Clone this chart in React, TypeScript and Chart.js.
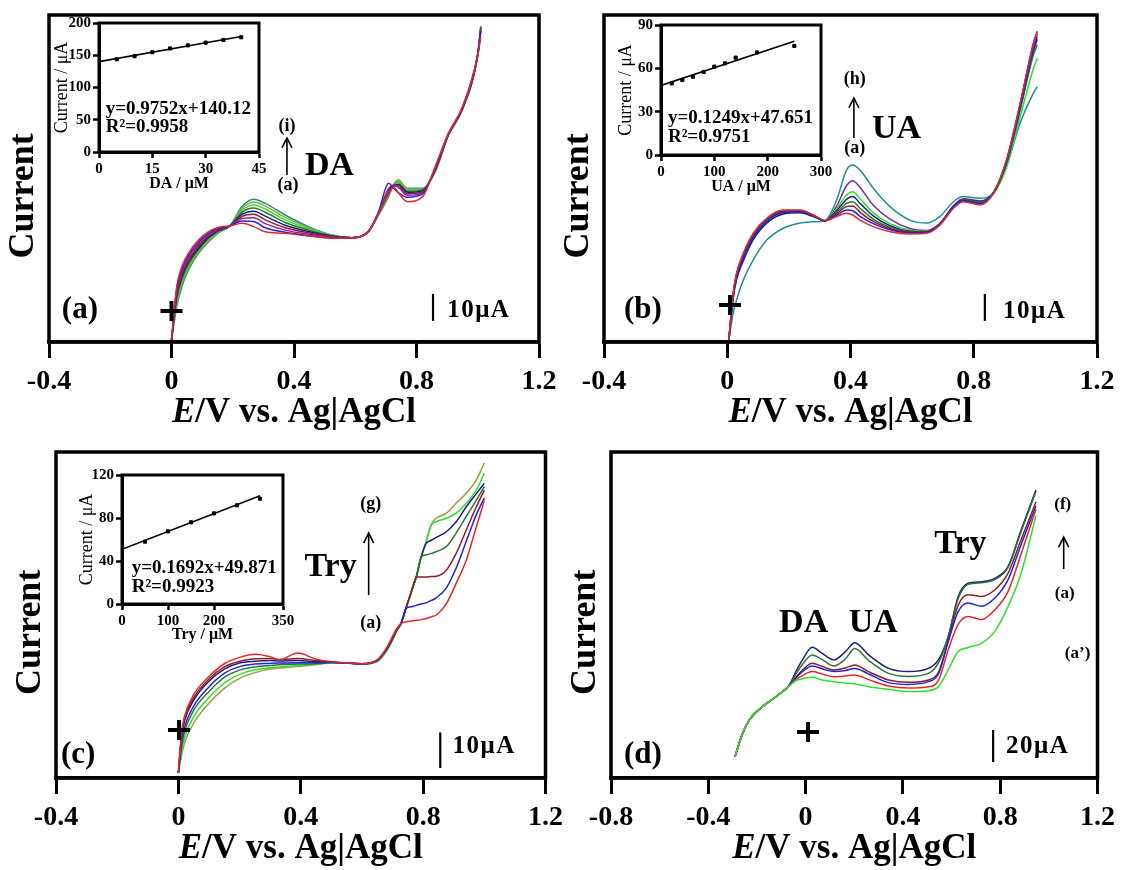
import React, { useEffect, useRef } from 'react';
import { Chart, registerables } from 'chart.js';

Chart.register(...registerables);

const SERIF = '"Liberation Serif", "Times New Roman", Times, serif';
Chart.defaults.font.family = SERIF;

const RED = '#e5262b';
const BLUE = '#2323d6';
const MAGENTA = '#9a239a';
const WINE = '#87202e';
const NAVY = '#1d1f78';
const DKGREEN = '#2f7433';
const GREEN = '#2ee02e';
const OLIVE = '#a09a45';
const TEAL = '#1f8f8f';
const PURPLE = '#7d2a9a';

// ---------------- Axis ticks ----------------
const mainTicks = [-0.4, 0, 0.4, 0.8, 1.2];
const mixTicks = [-0.8, -0.4, 0, 0.4, 0.8, 1.2];

// ---------------- Panel (a): DA, potential (V) and currents (uA, arbitrary offset) ----------------
const potentialA = [0, 0.017, 0.034, 0.055, 0.088, 0.121, 0.153, 0.19, 0.23, 0.268, 0.306, 0.371, 0.447, 0.523, 0.589, 0.643, 0.676, 0.709, 0.725, 0.741, 0.77, 0.82, 0.861, 0.904, 0.95, 1.0, 1.01];
const daA = [0.7, 20.5, 27.9, 32.8, 37.7, 40.8, 42.4, 42.9, 43.9, 42.7, 40.8, 40.2, 39.2, 38.4, 38.6, 40.8, 47.6, 55.0, 57.2, 55.2, 51.9, 53.8, 64.9, 77.2, 87.0, 106.0, 113.0];
const daB = [0.7, 19.6, 27.0, 31.9, 36.9, 40.3, 42.0, 42.9, 44.8, 44.6, 42.3, 40.6, 39.4, 38.5, 38.6, 40.8, 48.2, 58.7, 57.0, 55.2, 53.6, 54.8, 64.5, 77.0, 86.8, 106.5, 115.0];
const daC = [0.7, 18.8, 26.1, 31.0, 36.2, 39.8, 41.7, 42.9, 45.7, 46.0, 43.8, 41.4, 39.9, 38.8, 38.6, 40.9, 47.9, 56.8, 58.0, 57.2, 54.3, 55.3, 64.2, 76.9, 86.6, 106.2, 116.0];
const daD = [0.7, 17.9, 25.2, 30.2, 35.4, 39.3, 41.4, 42.9, 46.5, 47.3, 45.2, 42.3, 40.4, 39.0, 38.6, 40.9, 47.8, 56.2, 57.8, 57.6, 54.9, 55.6, 63.9, 76.8, 86.5, 106.0, 115.0];
const daE = [0.7, 17.0, 24.3, 29.5, 34.7, 38.8, 41.2, 42.9, 47.2, 48.4, 46.6, 43.2, 40.9, 39.2, 38.6, 40.9, 47.6, 55.5, 57.9, 58.2, 55.4, 56.0, 63.7, 76.7, 86.4, 106.3, 116.0];
const daF = [0.7, 16.1, 23.4, 28.7, 34.1, 38.4, 41.0, 42.9, 48.0, 49.6, 48.0, 44.2, 41.4, 39.3, 38.6, 40.9, 47.4, 55.0, 57.9, 58.5, 55.8, 56.3, 63.5, 76.6, 86.3, 106.4, 116.5];
const daG = [0.7, 15.2, 22.5, 28.0, 33.6, 37.9, 40.8, 42.9, 48.7, 50.7, 49.2, 45.2, 41.9, 39.4, 38.6, 41.0, 47.3, 54.6, 58.0, 59.0, 56.2, 56.5, 63.3, 76.6, 86.2, 106.5, 117.0];
const daH = [0.7, 14.2, 21.5, 27.3, 33.2, 37.5, 40.6, 42.9, 49.4, 51.8, 50.3, 46.1, 42.3, 39.5, 38.6, 41.0, 47.1, 54.2, 58.3, 60.0, 56.6, 56.7, 63.1, 76.5, 86.1, 106.4, 116.5];
const daI = [0.7, 13.1, 20.5, 26.6, 32.8, 37.1, 40.4, 42.9, 50.1, 52.8, 51.3, 47.0, 42.7, 39.6, 38.6, 41.0, 47.0, 53.8, 58.1, 59.3, 56.9, 56.9, 63.0, 76.5, 86.0, 106.5, 117.0];

// ---------------- Panel (b): UA ----------------
const potentialB = [0.005, 0.019, 0.03, 0.052, 0.084, 0.128, 0.182, 0.236, 0.279, 0.317, 0.355, 0.387, 0.407, 0.431, 0.474, 0.528, 0.593, 0.647, 0.69, 0.734, 0.766, 0.82, 0.863, 0.906, 0.95, 0.993, 1.006];
const uaA = [0.5, 18.0, 25.4, 32.8, 40.2, 45.8, 48.8, 48.8, 47.0, 44.9, 46.4, 47.6, 47.0, 45.1, 42.7, 40.8, 40.0, 40.2, 43.3, 49.5, 51.9, 50.7, 55.0, 67.3, 88.0, 110.0, 114.8];
const uaB = [0.5, 16.5, 23.8, 30.8, 38.6, 44.6, 47.9, 48.2, 46.6, 44.8, 46.9, 48.8, 48.6, 46.5, 43.8, 41.5, 40.4, 40.5, 43.8, 50.2, 52.3, 51.3, 55.1, 66.5, 86.5, 108.0, 113.0];
const uaC = [0.5, 17.6, 25.0, 32.4, 39.8, 45.5, 48.6, 48.7, 47.0, 44.9, 47.5, 50.1, 50.3, 48.0, 44.6, 41.9, 40.6, 40.5, 43.5, 49.8, 52.2, 51.2, 55.0, 67.0, 87.5, 109.5, 114.0];
const uaD = [0.5, 17.2, 24.6, 31.6, 39.2, 45.0, 48.2, 48.4, 46.8, 44.9, 48.0, 51.3, 51.9, 49.5, 45.5, 42.4, 40.8, 40.6, 43.4, 49.6, 52.6, 51.8, 55.0, 66.0, 85.5, 106.0, 110.0];
const uaE = [0.5, 15.8, 23.0, 30.0, 37.8, 44.0, 47.4, 47.8, 46.4, 44.9, 48.6, 52.8, 53.8, 51.3, 46.7, 43.0, 41.0, 40.8, 43.6, 50.0, 52.8, 52.0, 55.0, 66.2, 86.0, 107.5, 112.0];
const uaF = [0.5, 17.0, 24.3, 31.2, 38.9, 44.8, 48.0, 48.3, 46.8, 44.9, 49.2, 54.4, 55.6, 53.0, 47.8, 43.8, 41.4, 41.0, 43.2, 49.8, 52.4, 51.5, 54.6, 64.5, 83.0, 101.0, 105.0];
const uaG = [0.5, 17.4, 24.8, 31.8, 39.5, 45.2, 48.4, 48.6, 47.0, 44.9, 50.3, 57.8, 59.7, 57.2, 50.6, 45.5, 42.0, 41.3, 43.8, 50.4, 53.0, 52.2, 55.2, 67.0, 87.8, 110.5, 115.0];
const uaH = [0.5, 10.6, 15.5, 22.9, 30.3, 37.7, 42.1, 44.0, 44.5, 44.9, 52.5, 63.6, 65.5, 63.6, 56.9, 50.1, 45.1, 44.0, 46.4, 51.9, 53.8, 53.2, 55.0, 64.9, 80.9, 92.0, 94.4];

// ---------------- Panel (c): Try ----------------
const potentialC = [0, 0.01, 0.02, 0.05, 0.1, 0.15, 0.2, 0.25, 0.3, 0.33, 0.39, 0.45, 0.5, 0.55, 0.6, 0.65, 0.68, 0.7, 0.712, 0.728, 0.745, 0.761, 0.778, 0.794, 0.81, 0.827, 0.843, 0.876, 0.908, 0.941, 0.974, 1.0];
const tryA = [1.4, 12.6, 17.3, 23.4, 28.5, 32.1, 33.9, 34.8, 34.1, 33.2, 35.1, 33.4, 32.7, 32.3, 32.1, 33.2, 36.5, 39.8, 41.8, 43.4, 43.9, 44.1, 44.3, 44.5, 44.8, 45.3, 45.8, 49.0, 54.7, 61.2, 70.6, 78.0];
const tryB = [1.4, 9.8, 14.3, 20.2, 25.6, 29.4, 31.3, 32.0, 32.2, 32.3, 32.4, 32.4, 32.5, 32.3, 32.1, 33.1, 36.3, 39.5, 41.6, 43.5, 47.7, 48.1, 48.5, 48.9, 49.2, 49.9, 50.6, 53.4, 59.0, 66.5, 74.0, 78.7];
const tryC = [1.4, 11.8, 16.5, 22.5, 27.8, 31.2, 32.8, 33.5, 33.6, 33.3, 33.6, 33.0, 32.6, 32.3, 32.1, 33.1, 36.2, 39.3, 41.5, 43.6, 48.1, 52.3, 56.5, 56.5, 56.5, 56.6, 56.7, 58.4, 63.1, 69.7, 76.2, 80.9];
const tryD = [1.4, 8.6, 13.0, 19.0, 24.3, 28.3, 30.3, 31.2, 31.6, 31.8, 32.0, 32.1, 32.4, 32.3, 32.0, 33.0, 36.1, 39.2, 41.4, 43.6, 48.1, 52.3, 56.6, 62.2, 62.7, 63.1, 63.6, 65.0, 68.8, 73.5, 78.1, 81.9];
const tryE = [1.4, 11.2, 16.0, 21.8, 27.2, 30.6, 32.3, 32.8, 33.0, 32.9, 33.0, 32.7, 32.5, 32.3, 32.1, 33.0, 36.0, 39.1, 41.3, 43.5, 48.0, 52.2, 56.6, 62.2, 65.9, 66.8, 67.6, 69.2, 72.0, 76.2, 79.9, 82.8];
const tryF = [1.4, 7.2, 11.3, 17.2, 22.6, 26.7, 29.1, 30.4, 31.0, 31.2, 31.6, 31.9, 32.4, 32.3, 32.0, 32.8, 35.8, 38.9, 41.2, 43.4, 48.0, 52.2, 56.6, 62.2, 66.4, 71.1, 72.0, 73.0, 74.4, 77.2, 80.9, 85.6];
const tryG = [1.4, 6.1, 9.8, 15.4, 21.0, 25.2, 28.0, 29.6, 30.6, 30.9, 31.3, 31.9, 32.4, 32.3, 32.0, 32.7, 35.5, 38.7, 41.0, 43.2, 47.9, 52.1, 56.5, 62.1, 66.4, 71.3, 73.0, 74.4, 77.2, 80.0, 83.8, 88.5];

// ---------------- Panel (d): mixture ----------------
const potentialD = [-0.29, -0.259, -0.231, -0.177, -0.122, -0.068, -0.04, -0.013, 0.027, 0.068, 0.116, 0.164, 0.202, 0.259, 0.341, 0.423, 0.505, 0.546, 0.586, 0.627, 0.668, 0.723, 0.777, 0.832, 0.886, 0.947];
const mixA1 = [13.5, 27.9, 36.3, 44.6, 50.8, 57.5, 60.8, 62.0, 62.9, 61.3, 60.2, 59.4, 58.8, 57.1, 55.4, 54.0, 54.6, 57.1, 67.5, 79.0, 81.6, 84.2, 91.5, 107.1, 128.0, 164.0];
const mixA = [13.5, 27.9, 36.3, 44.6, 50.8, 57.5, 61.5, 64.0, 66.5, 65.0, 63.3, 63.8, 64.4, 61.5, 57.5, 56.3, 57.1, 61.0, 80.0, 96.0, 101.0, 99.0, 105.0, 116.5, 140.0, 168.0];
const mixB = [13.5, 27.9, 36.3, 44.6, 50.8, 57.6, 62.5, 66.5, 70.0, 68.3, 66.5, 67.2, 68.5, 65.0, 59.6, 58.5, 60.2, 65.0, 85.0, 104.0, 109.4, 107.3, 112.3, 123.8, 146.0, 170.0];
const mixC = [13.5, 27.9, 36.3, 44.6, 50.8, 57.7, 63.0, 67.5, 71.7, 69.8, 67.5, 68.8, 70.6, 66.5, 61.3, 59.8, 61.3, 66.0, 86.0, 108.0, 114.6, 113.5, 117.5, 127.9, 149.0, 172.5];
const mixD = [13.5, 27.9, 36.3, 44.6, 50.8, 57.8, 65.0, 71.0, 76.9, 74.0, 70.0, 74.5, 81.0, 73.5, 65.4, 63.5, 65.4, 72.0, 88.0, 112.0, 121.0, 122.0, 124.0, 131.5, 154.0, 179.0];
const mixF = [13.5, 27.9, 36.3, 44.6, 50.8, 57.9, 66.5, 73.8, 81.7, 77.9, 73.8, 79.0, 84.6, 76.9, 68.5, 66.5, 68.5, 73.8, 88.3, 113.3, 121.7, 122.7, 124.8, 132.1, 155.0, 180.0];

// ---------------- Insets: calibration data ----------------
const daConc = [5, 10, 15, 20, 25, 30, 35, 40];
const daPeak = [143.7, 148.4, 154.7, 160.5, 165.3, 169.5, 173.7, 177.9];
const daFitX = [0, 40];
const daFitY = [140.1, 179.1];
const daInsetXTicks = [0, 15, 30, 45];
const daInsetYTicks = [0, 50, 100, 150, 200];

const uaConc = [20, 40, 60, 80, 100, 120, 140, 180, 250];
const uaPeak = [49.6, 51.9, 54.2, 57.5, 61.2, 63.5, 67.4, 71.0, 75.5];
const uaFitX = [0, 250];
const uaFitY = [48.2, 78.7];
const uaInsetXTicks = [0, 100, 200, 300];
const uaInsetYTicks = [0, 30, 60, 90];

const tryConc = [50, 100, 150, 200, 250, 300];
const tryPeak = [58.0, 67.6, 76.0, 84.3, 91.8, 98.0];
const tryFitX = [0, 300];
const tryFitY = [50.9, 100.6];
const tryInsetXTicks = [0, 100, 200, 350];
const tryInsetYTicks = [0, 40, 80, 120];

// ---------------- Decoration plugin ----------------
type Item =
  | { kind: 'text'; x: number; y: number; text: string; size: number; align?: CanvasTextAlign; spacing?: number }
  | { kind: 'arrow'; x: number; y1: number; y2: number }
  | { kind: 'bar'; x: number; y: number; len: number }
  | { kind: 'plus'; x: number; y: number };

function makeDecor(spec: { frame: number; items: Item[]; yTitle?: string; xTitle?: boolean }) {
  return {
    id: 'decor',
    afterDraw(chart: any) {
      const { ctx, chartArea: ca } = chart;
      const sx = chart.scales.x;
      const sy = chart.scales.y;
      const X = (v: number) => sx.getPixelForValue(v);
      const Y = (v: number) => sy.getPixelForValue(v);
      ctx.save();
      ctx.fillStyle = '#000';
      ctx.strokeStyle = '#000';
      if (spec.frame) {
        ctx.lineWidth = spec.frame;
        ctx.strokeRect(ca.left, ca.top, ca.right - ca.left, ca.bottom - ca.top);
      }
      if (spec.yTitle) {
        ctx.save();
        ctx.translate(ca.left - 25, ca.top + 0.553 * (ca.bottom - ca.top));
        ctx.rotate(-Math.PI / 2);
        ctx.font = `bold 36px ${SERIF}`;
        ctx.textAlign = 'center';
        ctx.textBaseline = 'middle';
        ctx.fillText(spec.yTitle, 0, 0);
        ctx.restore();
      }
      if (spec.xTitle) {
        const italic = `italic bold 35px ${SERIF}`;
        const normal = `bold 35px ${SERIF}`;
        const rest = '/V vs. Ag|AgCl';
        ctx.font = italic;
        const w1 = ctx.measureText('E').width;
        ctx.font = normal;
        const w2 = ctx.measureText(rest).width;
        const x0 = (ca.left + ca.right) / 2 - (w1 + w2) / 2;
        const yb = ca.bottom + 80;
        ctx.textAlign = 'left';
        ctx.textBaseline = 'alphabetic';
        ctx.font = italic;
        ctx.fillText('E', x0, yb);
        ctx.font = normal;
        ctx.fillText(rest, x0 + w1, yb);
      }
      spec.items.forEach((it) => {
        if (it.kind === 'text') {
          ctx.font = `bold ${it.size}px ${SERIF}`;
          ctx.textAlign = it.align || 'left';
          ctx.textBaseline = 'alphabetic';
          (ctx as any).letterSpacing = `${it.spacing || 0}px`;
          ctx.fillText(it.text, X(it.x), Y(it.y));
          (ctx as any).letterSpacing = '0px';
        } else if (it.kind === 'arrow') {
          const x = X(it.x);
          const yb = Y(it.y1);
          const yt = Y(it.y2);
          ctx.lineWidth = 1.6;
          ctx.beginPath();
          ctx.moveTo(x, yb);
          ctx.lineTo(x, yt);
          ctx.stroke();
          ctx.beginPath();
          ctx.moveTo(x - 5, yt + 10);
          ctx.lineTo(x, yt);
          ctx.lineTo(x + 5, yt + 10);
          ctx.stroke();
        } else if (it.kind === 'bar') {
          ctx.lineWidth = 2.2;
          ctx.beginPath();
          ctx.moveTo(X(it.x), Y(it.y));
          ctx.lineTo(X(it.x), Y(it.y + it.len));
          ctx.stroke();
        } else if (it.kind === 'plus') {
          const cx = X(it.x);
          const cy = Y(it.y);
          ctx.lineWidth = 4;
          ctx.beginPath();
          ctx.moveTo(cx - 11, cy);
          ctx.lineTo(cx + 11, cy);
          ctx.moveTo(cx, cy - 10);
          ctx.lineTo(cx, cy + 10);
          ctx.stroke();
        }
      });
      ctx.restore();
    },
  };
}

// ---------------- Chart configs ----------------
interface PanelSpec {
  left: number; top: number; width: number; height: number;
  padL: number; padT: number; padR: number; axisH: number;
  xMin: number; xMax: number; xTicks: number[]; yMax: number;
  potential: number[];
  curves: { data: number[]; color: string }[];
  items: Item[];
}

const fmtTick = (v: number) => (v === 0 ? '0' : String(v));

function panelConfig(p: PanelSpec): any {
  return {
    type: 'line',
    data: {
      datasets: p.curves.map((c) => ({
        data: p.potential.map((x, i) => ({ x, y: c.data[i] })),
        borderColor: c.color,
        borderWidth: 1.5,
        pointRadius: 0,
        fill: false,
        cubicInterpolationMode: 'monotone',
      })),
    },
    options: {
      responsive: false,
      animation: false,
      events: [],
      devicePixelRatio: 1,
      layout: { padding: { left: p.padL, top: p.padT, right: p.padR, bottom: 0 } },
      plugins: { legend: { display: false }, tooltip: { enabled: false } },
      scales: {
        x: {
          type: 'linear',
          min: p.xMin,
          max: p.xMax,
          afterBuildTicks: (s: any) => { s.ticks = p.xTicks.map((v) => ({ value: v })); },
          afterFit: (s: any) => { s.height = p.axisH; },
          grid: { display: true, drawOnChartArea: false, drawTicks: true, tickLength: 16, tickWidth: 3, tickColor: '#000', color: '#000' },
          border: { display: true, width: 3.5, color: '#000' },
          ticks: { font: { family: SERIF, size: 28, weight: 'bold' }, color: '#000', padding: 7, maxRotation: 0, autoSkip: false, callback: (v: number) => fmtTick(v) },
        },
        y: { type: 'linear', display: false, min: 0, max: p.yMax },
      },
    },
    plugins: [makeDecor({ frame: 3.5, items: p.items, yTitle: 'Current', xTitle: true })],
  };
}

interface InsetSpec {
  left: number; top: number; width: number; height: number;
  padT: number; padR: number; yW: number; xH: number;
  xMax: number; yMax: number; xTicks: number[]; yTicks: number[];
  xTitle: string; conc: number[]; peak: number[]; fitX: number[]; fitY: number[];
  items: Item[];
}

function insetConfig(s: InsetSpec): any {
  const tickFont = { family: SERIF, size: 15, weight: 'bold' };
  return {
    type: 'scatter',
    data: {
      datasets: [
        { data: s.conc.map((x, i) => ({ x, y: s.peak[i] })), pointStyle: 'rect', pointRadius: 2.2, backgroundColor: '#000', borderColor: '#000', showLine: false },
        { data: s.fitX.map((x, i) => ({ x, y: s.fitY[i] })), showLine: true, pointRadius: 0, borderColor: '#000', borderWidth: 1.6 },
      ],
    },
    options: {
      responsive: false,
      animation: false,
      events: [],
      devicePixelRatio: 1,
      layout: { padding: { left: 0, top: s.padT, right: s.padR, bottom: 0 } },
      plugins: { legend: { display: false }, tooltip: { enabled: false } },
      scales: {
        x: {
          type: 'linear', min: 0, max: s.xMax,
          afterBuildTicks: (sc: any) => { sc.ticks = s.xTicks.map((v) => ({ value: v })); },
          afterFit: (sc: any) => { sc.height = s.xH; },
          grid: { drawOnChartArea: false, tickLength: 6, tickWidth: 2.5, tickColor: '#000' },
          border: { width: 3, color: '#000' },
          ticks: { font: tickFont, color: '#000', padding: 2, maxRotation: 0, autoSkip: false, callback: (v: number) => String(v) },
          title: { display: true, text: s.xTitle, font: { family: SERIF, size: 16, weight: 'bold' }, color: '#000', padding: 0 },
        },
        y: {
          type: 'linear', min: 0, max: s.yMax,
          afterBuildTicks: (sc: any) => { sc.ticks = s.yTicks.map((v) => ({ value: v })); },
          afterFit: (sc: any) => { sc.width = s.yW; },
          grid: { drawOnChartArea: false, tickLength: 6, tickWidth: 2.5, tickColor: '#000' },
          border: { width: 3, color: '#000' },
          ticks: { font: tickFont, color: '#000', padding: 2, autoSkip: false, callback: (v: number) => String(v) },
          title: { display: true, text: 'Current / μA', font: { family: SERIF, size: 18, weight: 'normal' }, color: '#000', padding: 0 },
        },
      },
    },
    plugins: [makeDecor({ frame: 3, items: s.items })],
  };
}

const panels: PanelSpec[] = [
  {
    left: 0, top: 0, width: 570, height: 440, padL: 49, padT: 15, padR: 31, axisH: 98,
    xMin: -0.4, xMax: 1.2, xTicks: mainTicks, yMax: 121, potential: potentialA,
    curves: [
      { data: daA, color: RED }, { data: daB, color: BLUE }, { data: daC, color: MAGENTA },
      { data: daD, color: WINE }, { data: daE, color: NAVY }, { data: daF, color: DKGREEN },
      { data: daG, color: GREEN }, { data: daH, color: OLIVE }, { data: daI, color: TEAL },
    ],
    items: [
      { kind: 'text', x: -0.358, y: 8.9, text: '(a)', size: 31 },
      { kind: 'plus', x: 0, y: 11.5 },
      { kind: 'bar', x: 0.854, y: 7.8, len: 10 },
      { kind: 'text', x: 0.9, y: 9.25, text: '10μA', size: 25, spacing: 1.5 },
      { kind: 'text', x: 0.436, y: 61.8, text: 'DA', size: 34 },
      { kind: 'arrow', x: 0.377, y1: 61.8, y2: 75.5 },
      { kind: 'text', x: 0.377, y: 78, text: '(i)', size: 18, align: 'center' },
      { kind: 'text', x: 0.38, y: 56.2, text: '(a)', size: 18, align: 'center' },
    ],
  },
  {
    left: 560, top: 0, width: 562, height: 440, padL: 44, padT: 15, padR: 25, axisH: 98,
    xMin: -0.4, xMax: 1.2, xTicks: mainTicks, yMax: 121, potential: potentialB,
    curves: [
      { data: uaA, color: RED }, { data: uaB, color: BLUE }, { data: uaC, color: WINE },
      { data: uaD, color: DKGREEN }, { data: uaE, color: NAVY }, { data: uaF, color: GREEN },
      { data: uaG, color: PURPLE }, { data: uaH, color: TEAL },
    ],
    items: [
      { kind: 'text', x: -0.335, y: 8.9, text: '(b)', size: 31 },
      { kind: 'plus', x: 0.009, y: 13.7 },
      { kind: 'bar', x: 0.836, y: 7.8, len: 10 },
      { kind: 'text', x: 0.895, y: 8.9, text: '10μA', size: 25, spacing: 1.5 },
      { kind: 'text', x: 0.47, y: 75.5, text: 'UA', size: 34 },
      { kind: 'arrow', x: 0.411, y1: 75.5, y2: 90.3 },
      { kind: 'text', x: 0.414, y: 95.5, text: '(h)', size: 18, align: 'center' },
      { kind: 'text', x: 0.414, y: 69.9, text: '(a)', size: 18, align: 'center' },
    ],
  },
  {
    left: 0, top: 440, width: 570, height: 430, padL: 56, padT: 12, padR: 24, axisH: 92,
    xMin: -0.4, xMax: 1.2, xTicks: mainTicks, yMax: 91.6, potential: potentialC,
    curves: [
      { data: tryA, color: RED }, { data: tryB, color: BLUE }, { data: tryC, color: WINE },
      { data: tryD, color: DKGREEN }, { data: tryE, color: NAVY }, { data: tryF, color: GREEN },
      { data: tryG, color: OLIVE },
    ],
    items: [
      { kind: 'text', x: -0.384, y: 4.2, text: '(c)', size: 31 },
      { kind: 'plus', x: 0.002, y: 13.5 },
      { kind: 'bar', x: 0.856, y: 2.8, len: 10 },
      { kind: 'text', x: 0.896, y: 7, text: '10μA', size: 25, spacing: 1.5 },
      { kind: 'text', x: 0.412, y: 56.7, text: 'Try', size: 34 },
      { kind: 'arrow', x: 0.622, y1: 51.4, y2: 68.8 },
      { kind: 'text', x: 0.629, y: 75.7, text: '(g)', size: 18, align: 'center' },
      { kind: 'text', x: 0.629, y: 42.1, text: '(a)', size: 18, align: 'center' },
    ],
  },
  {
    left: 560, top: 440, width: 562, height: 430, padL: 51, padT: 12, padR: 22, axisH: 92,
    xMin: -0.8, xMax: 1.2, xTicks: mixTicks, yMax: 203.75, potential: potentialD,
    curves: [
      { data: mixA1, color: GREEN }, { data: mixA, color: RED }, { data: mixB, color: BLUE },
      { data: mixC, color: WINE }, { data: mixD, color: DKGREEN }, { data: mixF, color: NAVY },
    ],
    items: [
      { kind: 'text', x: -0.747, y: 9.4, text: '(d)', size: 31 },
      { kind: 'plus', x: 0.01, y: 28.75 },
      { kind: 'bar', x: 0.771, y: 10, len: 20 },
      { kind: 'text', x: 0.824, y: 15.6, text: '20μA', size: 25, spacing: 1.5 },
      { kind: 'text', x: -0.109, y: 91.3, text: 'DA', size: 34 },
      { kind: 'text', x: 0.177, y: 91.3, text: 'UA', size: 34 },
      { kind: 'text', x: 0.529, y: 140.6, text: 'Try', size: 34 },
      { kind: 'text', x: 1.057, y: 168.1, text: '(f)', size: 17, align: 'center' },
      { kind: 'arrow', x: 1.061, y1: 130.6, y2: 150.6 },
      { kind: 'text', x: 1.065, y: 112.5, text: '(a)', size: 17, align: 'center' },
      { kind: 'text', x: 1.118, y: 75, text: '(a’)', size: 17, align: 'center' },
    ],
  },
];

const insets: InsetSpec[] = [
  {
    left: 51, top: 10, width: 224, height: 183, padT: 13, padR: 16, yW: 48, xH: 41,
    xMax: 45, yMax: 200, xTicks: daInsetXTicks, yTicks: daInsetYTicks, xTitle: 'DA / μM',
    conc: daConc, peak: daPeak, fitX: daFitX, fitY: daFitY,
    items: [
      { kind: 'text', x: 1.9, y: 58.9, text: 'y=0.9752x+140.12', size: 19 },
      { kind: 'text', x: 1.9, y: 31, text: 'R²=0.9958', size: 19 },
    ],
  },
  {
    left: 615, top: 12, width: 222, height: 184, padT: 13, padR: 16, yW: 46, xH: 41,
    xMax: 300, yMax: 90, xTicks: uaInsetXTicks, yTicks: uaInsetYTicks, xTitle: 'UA / μM',
    conc: uaConc, peak: uaPeak, fitX: uaFitX, fitY: uaFitY,
    items: [
      { kind: 'text', x: 13, y: 21.9, text: 'y=0.1249x+47.651', size: 19 },
      { kind: 'text', x: 13, y: 9.2, text: 'R²=0.9751', size: 19 },
    ],
  },
  {
    left: 76, top: 462, width: 227, height: 182, padT: 13, padR: 20, yW: 46, xH: 40,
    xMax: 350, yMax: 120, xTicks: tryInsetXTicks, yTicks: tryInsetYTicks, xTitle: 'Try / μM',
    conc: tryConc, peak: tryPeak, fitX: tryFitX, fitY: tryFitY,
    items: [
      { kind: 'text', x: 21, y: 28.8, text: 'y=0.1692x+49.871', size: 19 },
      { kind: 'text', x: 21, y: 11.4, text: 'R²=0.9923', size: 19 },
    ],
  },
];

function ChartCanvas(props: { left: number; top: number; width: number; height: number; make: () => any }) {
  const ref = useRef<HTMLCanvasElement>(null);
  useEffect(() => {
    const chart = new Chart(ref.current as HTMLCanvasElement, props.make());
    return () => chart.destroy();
  }, []);
  return (
    <canvas
      ref={ref}
      width={props.width}
      height={props.height}
      style={{ position: 'absolute', left: props.left, top: props.top, width: props.width, height: props.height }}
    />
  );
}

export default function App() {
  return (
    <div style={{ position: 'absolute', left: 0, top: 0, width: 1122, height: 870, background: '#fff', overflow: 'hidden' }}>
      {panels.map((p, i) => (
        <ChartCanvas key={`p${i}`} left={p.left} top={p.top} width={p.width} height={p.height} make={() => panelConfig(p)} />
      ))}
      {insets.map((s, i) => (
        <ChartCanvas key={`i${i}`} left={s.left} top={s.top} width={s.width} height={s.height} make={() => insetConfig(s)} />
      ))}
    </div>
  );
}
